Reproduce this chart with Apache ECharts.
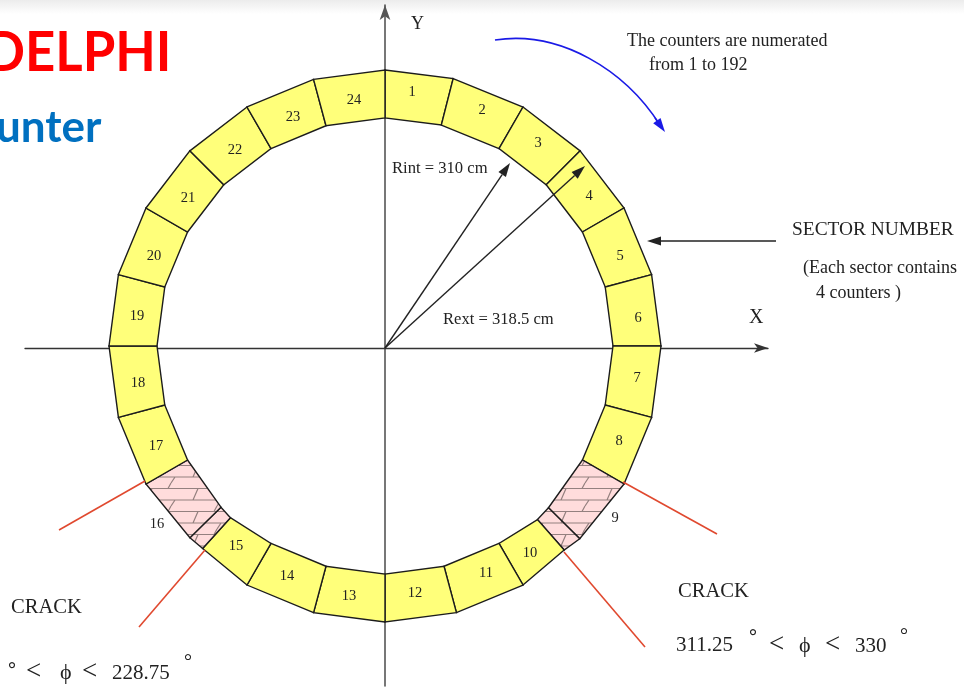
<!DOCTYPE html>
<html>
<head>
<meta charset="utf-8">
<style>
  html, body { margin: 0; padding: 0; background: #fff; overflow: hidden; }
  #chart { width: 964px; height: 688px; }
</style>
<script src="https://cdn.jsdelivr.net/npm/echarts@6/dist/echarts.min.js"></script>
</head>
<body>
<div id="chart"></div>
<script>
// ring boundaries, clockwise from the Y axis (degrees, radius in picture units)
var edgeAngle = [0, 14.3, 30, 45, 60, 75, 90, 105, 120, 134.7, 138.7, 150, 165, 180, 195, 210, 222, 225.5, 240, 255, 270, 285, 300, 315, 330, 345, 360];
var edgeOuter = [276, 276, 276, 276, 276, 276, 276, 276, 276, 274, 271.5, 276, 276, 276, 276, 276, 272.5, 273.5, 276, 276, 276, 276, 276, 276, 276, 276, 276];
var edgeInner = [228, 228, 228, 228, 228, 228, 228, 228, 228, 230, 231, 228, 228, 228, 228, 228, 231, 230, 228, 228, 228, 228, 228, 228, 228, 228, 228];
var ringCentreY = 2;
// one flag per cell between two boundaries
var cellCrack = [0, 0, 0, 0, 0, 0, 0, 0, 1, 1, 0, 0, 0, 0, 0, 0, 1, 1, 0, 0, 0, 0, 0, 0, 0, 0];

var sectorNames = ['1', '2', '3', '4', '5', '6', '7', '8', '9', '10', '11', '12', '13', '14', '15', '16', '17', '18', '19', '20', '21', '22', '23', '24'];
var sectorLabelX = [27, 97, 153, 204, 235, 253, 252, 234, 230, 145, 101, 30, -36, -98, -149, -228, -229, -247, -248, -231, -197, -150, -92, -31];
var sectorLabelY = [256, 238, 205, 152, 92, 30, -30, -93, -170, -205, -225, -245, -248, -228, -198, -176, -98, -35, 32, 92, 150, 198, 231, 248];

// [x0, y0, x1, y1] of the black arrows
var rintArrow = [0, 0, 125, 185];
var rextArrow = [0, 0, 200, 182];
var sectorArrow = [391, 107, 262, 107];
var blueHead = [270, 230, 280, 216];

// start, two controls, end
var blueCurve = [[110, 308], [175, 318], [240, 278], [275, 223]];
var crackLines = [
  [[-240, -133], [-326, -182]],
  [[-180, -202], [-246, -279]],
  [[238, -134], [332, -186]],
  [[179, -204], [260, -299]]
];

function brickTile() {
  var c = document.createElement('canvas');
  c.width = 46; c.height = 23;
  var g = c.getContext('2d');
  g.fillStyle = '#ffdcdc';
  g.fillRect(0, 0, 46, 23);
  g.strokeStyle = '#94807f';
  g.lineWidth = 1.2;
  g.beginPath();
  g.moveTo(0, 5.5); g.lineTo(46, 5.5);
  g.moveTo(0, 17); g.lineTo(46, 17);
  g.moveTo(14, 5.5); g.lineTo(9, 17);
  g.moveTo(37, 17); g.lineTo(33, 23);
  g.moveTo(33, 0); g.lineTo(30, 5.5);
  g.stroke();
  return c;
}
var brick = { image: brickTile(), repeat: 'repeat' };

function ringPoint(api, angle, r) {
  var a = angle * Math.PI / 180;
  return api.coord([r * Math.sin(a), ringCentreY + r * Math.cos(a)]);
}

function renderCell(params, api) {
  var i = api.value(0);
  return {
    type: 'polygon',
    shape: {
      points: [
        ringPoint(api, edgeAngle[i], edgeOuter[i]),
        ringPoint(api, edgeAngle[i + 1], edgeOuter[i + 1]),
        ringPoint(api, edgeAngle[i + 1], edgeInner[i + 1]),
        ringPoint(api, edgeAngle[i], edgeInner[i])
      ]
    },
    style: { fill: cellCrack[i] ? brick : '#ffff7a', stroke: '#1c1c1c', lineWidth: 1.4 }
  };
}

function renderSectorName(params, api) {
  var p = api.coord([sectorLabelX[params.dataIndex], sectorLabelY[params.dataIndex]]);
  return {
    type: 'text',
    style: {
      text: sectorNames[params.dataIndex], x: p[0], y: p[1],
      fill: '#222', font: '14.5px "Liberation Serif"', align: 'center', verticalAlign: 'middle'
    }
  };
}

function renderArrow(params, api) {
  var a = api.coord([api.value(0), api.value(1)]);
  var b = api.coord([api.value(2), api.value(3)]);
  var col = api.value(4) ? '#1a1ae6' : '#222';
  var ang = Math.atan2(b[1] - a[1], b[0] - a[0]);
  var len = 14, w = 4.5;
  var bx = b[0] - len * Math.cos(ang), by = b[1] - len * Math.sin(ang);
  return {
    type: 'group',
    children: [
      { type: 'line', shape: { x1: a[0], y1: a[1], x2: bx, y2: by }, style: { stroke: col, lineWidth: 1.4 } },
      {
        type: 'polygon',
        shape: { points: [b, [bx - w * Math.sin(ang), by + w * Math.cos(ang)], [bx + w * Math.sin(ang), by - w * Math.cos(ang)]] },
        style: { fill: col }
      }
    ]
  };
}

function renderBlueCurve(params, api) {
  var p = blueCurve.map(function (d) { return api.coord(d); });
  return {
    type: 'bezierCurve',
    shape: { x1: p[0][0], y1: p[0][1], cpx1: p[1][0], cpy1: p[1][1], cpx2: p[2][0], cpy2: p[2][1], x2: p[3][0], y2: p[3][1] },
    style: { stroke: '#1a1ae6', lineWidth: 1.7, fill: null }
  };
}

function note(text, x, y, size, extra) {
  return {
    type: 'text', x: x, y: y + 1.5, z: 20,
    style: Object.assign({
      text: text, fill: '#222', font: size + 'px "Liberation Serif"', verticalAlign: 'middle'
    }, extra || {})
  };
}

var chart = echarts.init(document.getElementById('chart'));
var option = {
  animation: false,
  backgroundColor: '#fff',
  grid: { left: 25, right: 196, top: 5, bottom: 2 },
  xAxis: {
    type: 'value', min: -360, max: 383,
    axisLine: { show: true, onZero: true, symbol: ['none', 'arrow'], symbolSize: [7, 14], lineStyle: { color: '#333', width: 1.3 } },
    axisTick: { show: false }, axisLabel: { show: false }, splitLine: { show: false }
  },
  yAxis: {
    type: 'value', min: -338, max: 343,
    axisLine: { show: true, onZero: true, symbol: ['none', 'arrow'], symbolSize: [8, 15], lineStyle: { color: '#555', width: 1.6 } },
    axisTick: { show: false }, axisLabel: { show: false }, splitLine: { show: false }
  },
  series: [
    { type: 'custom', z: 3, silent: true, renderItem: renderCell, data: cellCrack.map(function (f, i) { return [i]; }) },
    { type: 'custom', z: 5, silent: true, renderItem: renderSectorName, data: sectorNames.map(function (n, i) { return [i]; }) },
    {
      type: 'custom', z: 6, silent: true, renderItem: renderArrow,
      data: [rintArrow.concat(0), rextArrow.concat(0), sectorArrow.concat(0), blueHead.concat(1)]
    },
    { type: 'custom', z: 4, silent: true, renderItem: renderBlueCurve, data: [[0]] }
  ].concat(crackLines.map(function (l) {
    return { type: 'line', z: 4, silent: true, symbol: 'none', data: l, lineStyle: { color: '#e0492f', width: 1.6 } };
  })),
  graphic: [
    {
      type: 'rect', z: -10, shape: { x: 0, y: 0, width: 964, height: 14 },
      style: { fill: new echarts.graphic.LinearGradient(0, 0, 0, 1, [{ offset: 0, color: '#ececec' }, { offset: 1, color: '#ffffff' }]) }
    },
    Object.assign(note('DELPHI', -15, 51, 56, { fill: '#ff0000', font: 'bold 56px Lato' }), { scaleX: 0.94 }),
    note('unter', -4, 126, 44, { fill: '#0070c0', font: 'bold 44px Lato' }),
    note('Y', 411, 23, 18),
    note('X', 749, 316, 20),
    note('The counters are numerated', 627, 40, 18),
    note('from 1 to 192', 649, 64, 18),
    note('SECTOR NUMBER', 792, 228, 19.4),
    note('(Each sector contains', 803, 267, 18),
    note('4 counters )', 816, 292, 18),
    note('Rint = 310 cm', 392, 167, 16.6),
    note('Rext = 318.5 cm', 443, 318, 16.6),
    note('CRACK', 11, 606, 20.6),
    note('CRACK', 678, 590, 20.6),
    note('°', 8, 669, 20, { font: 'bold 20px "Liberation Serif"' }),
    note('<', 26, 670, 27),
    note('ϕ', 60, 672, 22),
    note('<', 82, 670, 27),
    note('228.75', 112, 672, 21),
    note('°', 184, 661, 20),
    note('311.25', 676, 644, 21),
    note('°', 749, 636, 20, { font: 'bold 20px "Liberation Serif"' }),
    note('<', 769, 643, 27),
    note('ϕ', 799, 645, 22),
    note('<', 825, 643, 27),
    note('330', 855, 645, 21),
    note('°', 900, 635, 20)
  ]
};
chart.setOption(option);
</script>
</body>
</html>
